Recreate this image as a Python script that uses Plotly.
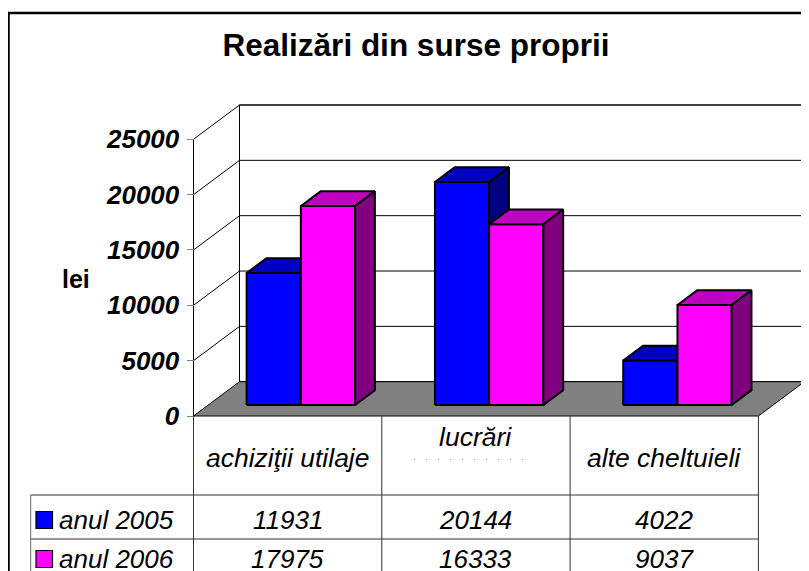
import plotly.graph_objects as go

# ---------------- data ----------------
categories = ["achiziţii utilaje", "lucrări", "alte cheltuieli"]
series_names = ["anul 2005", "anul 2006"]
values_2005 = [11931, 20144, 4022]
values_2006 = [17975, 16333, 9037]
y_tick_values = [0, 5000, 10000, 15000, 20000, 25000]
y_tick_labels = ["0", "5000", "10000", "15000", "20000", "25000"]
title_text = "Realizări din surse proprii"
y_title = "lei"

series_values = [values_2005, values_2006]
front_colors = ["#0000FF", "#FF00FF"]
top_colors = ["#0000C0", "#C000C0"]
side_colors = ["#000080", "#800080"]

FONT = "Liberation Sans, Arial, sans-serif"

# ---------------- geometry (pixel calibration, in page pixels) ----------------
OFF = 8                 # page body margin: figure starts at (8, 8)
W, H = 801, 563         # figure size so it fits the 809x571 window
X0 = 193.5 - OFF        # figure px of front-left corner of category axis
SLOT = 188.3            # px per category slot
Y0 = 416.0 - OFF        # figure px of value 0 at the front
K = 276.7 / 25000       # px per lei
DEPTH_PX_X, DEPTH_PX_Y = 46.0, 34.3

x_range = [(0 - X0) / SLOT, (W - X0) / SLOT]
y_range = [(Y0 - H) / K, Y0 / K]
DX = DEPTH_PX_X / SLOT
DY = DEPTH_PX_Y / K
VMAX = y_tick_values[-1]
NC = len(categories)

BAR_OFF = 0.204
BAR_W = 0.288
D1, D2 = 0.32, 0.75


def P(x, v, d):
    return x + d * DX, v + d * DY


def px(xp):
    """page x pixel -> paper fraction"""
    return (xp - OFF) / W


def py(yp):
    """page y pixel -> paper fraction"""
    return 1 - (yp - OFF) / H


fig = go.Figure()
shapes = []

# back wall
bw = [P(0, 0, 1), P(NC, 0, 1), P(NC, VMAX, 1), P(0, VMAX, 1)]
path = "M " + " L ".join(f"{a},{b}" for a, b in bw) + " Z"
shapes.append(dict(type="path", path=path, xref="x", yref="y", fillcolor="white",
                   line=dict(color="black", width=1), layer="below"))
# floor
fl = [P(0, 0, 0), P(NC, 0, 0), P(NC, 0, 1), P(0, 0, 1)]
path = "M " + " L ".join(f"{a},{b}" for a, b in fl) + " Z"
shapes.append(dict(type="path", path=path, xref="x", yref="y", fillcolor="#808080",
                   line=dict(color="black", width=1), layer="below"))
# gridlines on back wall and left wall
for v in y_tick_values[1:]:
    a = P(0, v, 1)
    b = P(NC, v, 1)
    shapes.append(dict(type="line", x0=a[0], y0=a[1], x1=b[0], y1=b[1], xref="x", yref="y",
                       line=dict(color="black", width=1), layer="below"))
    c = P(0, v, 0)
    shapes.append(dict(type="line", x0=c[0], y0=c[1], x1=a[0], y1=a[1], xref="x", yref="y",
                       line=dict(color="black", width=1), layer="below"))
# left front vertical line
a = P(0, 0, 0)
b = P(0, VMAX, 0)
shapes.append(dict(type="line", x0=a[0], y0=a[1], x1=b[0], y1=b[1], xref="x", yref="y",
                   line=dict(color="black", width=1), layer="below"))

# bars (3D faces)
for i in range(NC):
    for s in range(len(series_values)):
        v = series_values[s][i]
        xl = i + BAR_OFF + s * BAR_W
        xr = xl + BAR_W
        faces = [
            ([P(xl, 0, D1), P(xr, 0, D1), P(xr, v, D1), P(xl, v, D1)], front_colors[s]),
            ([P(xl, v, D1), P(xr, v, D1), P(xr, v, D2), P(xl, v, D2)], top_colors[s]),
            ([P(xr, 0, D1), P(xr, 0, D2), P(xr, v, D2), P(xr, v, D1)], side_colors[s]),
        ]
        for pts, col in faces:
            xs = [p[0] for p in pts] + [pts[0][0]]
            ys = [p[1] for p in pts] + [pts[0][1]]
            fig.add_trace(go.Scatter(x=xs, y=ys, mode="lines", fill="toself", fillcolor=col,
                                     line=dict(color="black", width=2), hoverinfo="skip",
                                     showlegend=False, name=series_names[s]))

# ---------------- table (page pixel positions) ----------------
col_x = [193.5 + SLOT * k for k in range(NC + 1)]
row_y = [416, 495, 539, 590]
LEFT_COL = 30.7
TL = dict(color="#333333", width=1)
for ry in row_y[1:3]:
    shapes.append(dict(type="line", xref="paper", yref="paper", x0=px(LEFT_COL), x1=px(col_x[-1]),
                       y0=py(ry), y1=py(ry), line=TL))
for cx in col_x:
    shapes.append(dict(type="line", xref="paper", yref="paper", x0=px(cx), x1=px(cx),
                       y0=py(row_y[0]), y1=py(row_y[3]), line=TL))
shapes.append(dict(type="line", xref="paper", yref="paper", x0=px(LEFT_COL), x1=px(LEFT_COL),
                   y0=py(row_y[1]), y1=py(row_y[3]), line=dict(color="#666666", width=1)))
# dotted artefact under "lucrări"
shapes.append(dict(type="line", xref="paper", yref="paper", x0=px(414), x1=px(532),
                   y0=py(459.5), y1=py(459.5), line=dict(color="#999999", width=1.2, dash="1px,11px")))

annotations = []
header_y = [458, 437, 458]
for k, cat in enumerate(categories):
    cx = (col_x[k] + col_x[k + 1]) / 2
    annotations.append(dict(x=px(cx), y=py(header_y[k]), xref="paper", yref="paper", text=cat,
                            showarrow=False, xanchor="center", yanchor="middle",
                            font=dict(family=FONT, size=26.5, color="black", style="italic")))
row_centers = [520, 559]
for s, name in enumerate(series_names):
    yc = row_centers[s]
    shapes.append(dict(type="rect", xref="paper", yref="paper", x0=px(36), x1=px(52.5),
                       y0=py(yc - 8.5), y1=py(yc + 8.5), fillcolor=front_colors[s],
                       line=dict(color="black", width=1.2)))
    annotations.append(dict(x=px(57), y=py(yc), xref="paper", yref="paper", text=name,
                            showarrow=False, xanchor="left", yanchor="middle",
                            font=dict(family=FONT, size=26, color="black", style="italic")))
    for k in range(NC):
        cx = (col_x[k] + col_x[k + 1]) / 2
        annotations.append(dict(x=px(cx), y=py(yc), xref="paper", yref="paper",
                                text=str(series_values[s][k]), showarrow=False,
                                xanchor="center", yanchor="middle",
                                font=dict(family=FONT, size=26, color="black", style="italic")))

# y title
annotations.append(dict(x=px(76), y=py(279), xref="paper", yref="paper", text=y_title,
                        showarrow=False, xanchor="center", yanchor="middle",
                        font=dict(family=FONT, size=25, color="black", weight="bold")))

# outer frame
shapes.append(dict(type="rect", xref="paper", yref="paper", x0=px(8.5), x1=1.05, y0=-0.05, y1=py(13),
                   line=dict(color="black", width=2.5)))

fig.update_layout(
    width=W, height=H,
    margin=dict(l=0, r=0, t=0, b=0),
    paper_bgcolor="white", plot_bgcolor="white",
    showlegend=False,
    title=dict(text=title_text, x=px(416), y=py(45), xref="paper", yref="paper",
               xanchor="center", yanchor="middle",
               font=dict(family=FONT, size=31.5, color="black", weight="bold")),
    xaxis=dict(range=x_range, visible=False, fixedrange=True),
    yaxis=dict(range=y_range, anchor="free", position=X0 / W, side="left",
               tickvals=y_tick_values, ticktext=y_tick_labels, showgrid=False, zeroline=False,
               showline=False, ticks="outside", ticklen=7, tickcolor="#808080", tickwidth=1,
               ticklabelstandoff=2,
               tickfont=dict(family=FONT, size=26, color="black", weight="bold", style="italic"),
               fixedrange=True),
    shapes=shapes,
    annotations=annotations,
)

fig.write_html("out.html")
